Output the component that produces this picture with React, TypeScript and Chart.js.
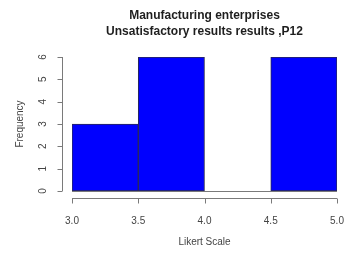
import React, { useEffect, useRef } from "react";
import { Chart, registerables } from "chart.js";

Chart.register(...registerables);

const titleLines = ["Manufacturing enterprises", "Unsatisfactory results results ,P12"];
const binCenters = [3.25, 3.75, 4.25, 4.75];
const frequencies = [3, 6, 0, 6];
const xTickValues = [3.0, 3.5, 4.0, 4.5, 5.0];
const yTickValues = [0, 1, 2, 3, 4, 5, 6];
const xAxisLabel = "Likert Scale";
const yAxisLabel = "Frequency";

const FONT = "'Liberation Sans', Arial, sans-serif";

const rAxesPlugin = {
  id: "rAxes",
  afterDatasetsDraw(chart: any) {
    const ctx = chart.ctx;
    const xs = chart.scales.x;
    const ys = chart.scales.y;
    const area = chart.chartArea;
    ctx.save();
    ctx.strokeStyle = "#7a7a7a";
    ctx.lineWidth = 1;
    // baseline of zero-height bins
    ctx.beginPath();
    const y0 = Math.round(ys.getPixelForValue(0)) + 0.5;
    ctx.moveTo(xs.getPixelForValue(xTickValues[0]), y0);
    ctx.lineTo(xs.getPixelForValue(xTickValues[xTickValues.length - 1]), y0);
    ctx.stroke();
    // y axis
    const ax = Math.round(area.left - 10) + 0.5;
    ctx.beginPath();
    ctx.moveTo(ax, ys.getPixelForValue(yTickValues[0]));
    ctx.lineTo(ax, ys.getPixelForValue(yTickValues[yTickValues.length - 1]));
    yTickValues.forEach((v) => {
      const p = Math.round(ys.getPixelForValue(v)) + 0.5;
      ctx.moveTo(ax, p);
      ctx.lineTo(ax - 5, p);
    });
    ctx.stroke();
    // x axis
    const ay = Math.round(area.bottom + 7) + 0.5;
    ctx.beginPath();
    ctx.moveTo(xs.getPixelForValue(xTickValues[0]), ay);
    ctx.lineTo(xs.getPixelForValue(xTickValues[xTickValues.length - 1]), ay);
    xTickValues.forEach((v) => {
      const p = Math.round(xs.getPixelForValue(v)) + 0.5;
      ctx.moveTo(p, ay);
      ctx.lineTo(p, ay + 5);
    });
    ctx.stroke();
    ctx.restore();
  },
};

export default function App() {
  const ref = useRef<HTMLCanvasElement | null>(null);
  useEffect(() => {
    if (!ref.current) return;
    const chart = new Chart(ref.current, {
      type: "bar",
      data: {
        datasets: [
          {
            data: binCenters.map((x, i) => ({ x, y: frequencies[i] })),
            backgroundColor: "#0000ff",
            borderColor: "#2a2a55",
            borderWidth: 1,
            borderSkipped: false,
            barPercentage: 1,
            categoryPercentage: 1,
          },
        ],
      },
      options: {
        responsive: false,
        animation: false,
        devicePixelRatio: 1,
        layout: { padding: 0 },
        plugins: {
          legend: { display: false },
          tooltip: { enabled: false },
          title: {
            display: true,
            fullSize: false,
            text: titleLines,
            color: "#1e1e1e",
            font: { family: FONT, size: 12, weight: "bold", lineHeight: 16 / 12 },
            padding: { top: 8, bottom: 17 },
          },
        },
        scales: {
          x: {
            type: "linear",
            min: 3,
            max: 5,
            offset: false,
            grid: { display: false, drawTicks: false },
            border: { display: false },
            afterBuildTicks: (s: any) => {
              s.ticks = xTickValues.map((v) => ({ value: v }));
            },
            afterFit: (s: any) => {
              s.height = 62;
              s.paddingLeft = 0;
              s.paddingRight = 19;
            },
            ticks: {
              padding: 24,
              color: "#444",
              font: { family: FONT, size: 10, lineHeight: 1.2 },
              maxRotation: 0,
              callback: (v: any) => Number(v).toFixed(1),
            },
            title: {
              display: true,
              text: xAxisLabel,
              color: "#444",
              font: { family: FONT, size: 10, lineHeight: 1.2 },
              padding: { top: 0, bottom: 5 },
            },
          },
          y: {
            min: 0,
            max: 6,
            grid: { display: false, drawTicks: false },
            border: { display: false },
            afterBuildTicks: (s: any) => {
              s.ticks = yTickValues.map((v) => ({ value: v }));
            },
            afterFit: (s: any) => {
              s.width = 72;
            },
            ticks: {
              padding: 26,
              color: "#444",
              crossAlign: "center",
              minRotation: 90,
              maxRotation: 90,
              font: { family: FONT, size: 10, lineHeight: 1.2 },
              callback: (v: any) => String(v),
            },
            title: {
              display: true,
              text: yAxisLabel,
              color: "#444",
              font: { family: FONT, size: 10, lineHeight: 1.2 },
              padding: { top: 14, bottom: 0 },
            },
          },
        },
      },
      plugins: [rAxesPlugin],
    } as any);
    return () => chart.destroy();
  }, []);
  return (
    <div style={{ position: "fixed", left: 0, top: 0, width: 356, height: 253, background: "#fff" }}>
      <canvas ref={ref} width={356} height={253} style={{ display: "block" }} />
    </div>
  );
}
